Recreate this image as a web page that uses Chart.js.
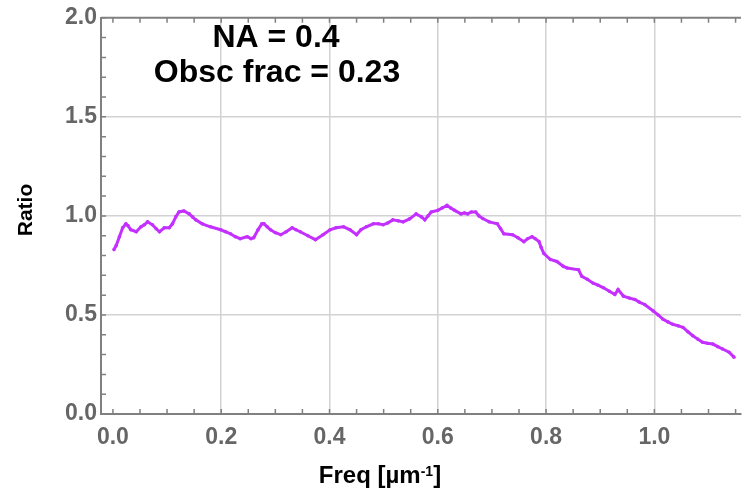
<!DOCTYPE html>
<html>
<head>
<meta charset="utf-8">
<title>Ratio vs Freq</title>
<script src="https://cdn.jsdelivr.net/npm/chart.js@4.4.0/dist/chart.umd.min.js"></script>
<style>
  html, body { margin: 0; padding: 0; background: #fff; overflow: hidden; }
  #chart { display: block; }
</style>
</head>
<body>
<canvas id="chart" width="745" height="492"></canvas>
<script>
// Measured ratio against spatial frequency
const freq = [
  0.002, 0.006, 0.012, 0.018, 0.024, 0.028, 0.033, 0.043, 0.052, 0.058,
  0.064, 0.073, 0.080, 0.086, 0.095, 0.104, 0.110, 0.116, 0.122, 0.131,
  0.141, 0.147, 0.153, 0.165, 0.180, 0.199, 0.208, 0.217, 0.226, 0.235,
  0.248, 0.255, 0.260, 0.268, 0.275, 0.279, 0.285, 0.291, 0.300, 0.310,
  0.320, 0.331, 0.338, 0.346, 0.360, 0.374, 0.388, 0.401, 0.412, 0.426,
  0.438, 0.450, 0.458, 0.468, 0.481, 0.490, 0.499, 0.508, 0.517, 0.527,
  0.536, 0.548, 0.560, 0.570, 0.576, 0.582, 0.588, 0.600, 0.608, 0.617,
  0.624, 0.631, 0.643, 0.649, 0.655, 0.662, 0.670, 0.676, 0.683, 0.695,
  0.710, 0.716, 0.722, 0.738, 0.748, 0.759, 0.766, 0.774, 0.780, 0.787,
  0.791, 0.796, 0.808, 0.820, 0.832, 0.839, 0.860, 0.866, 0.876, 0.887,
  0.896, 0.906, 0.917, 0.927, 0.933, 0.943, 0.954, 0.964, 0.972, 0.982,
  0.998, 1.007, 1.016, 1.025, 1.034, 1.044, 1.053, 1.062, 1.071, 1.080,
  1.089, 1.098, 1.108, 1.117, 1.126, 1.138, 1.147
];
const ratio = [
  0.83, 0.85, 0.895, 0.94, 0.96, 0.95, 0.93, 0.92, 0.945, 0.955,
  0.97, 0.955, 0.935, 0.92, 0.94, 0.94, 0.96, 0.995, 1.02, 1.025,
  1.01, 0.995, 0.98, 0.96, 0.945, 0.93, 0.92, 0.91, 0.895, 0.885,
  0.895, 0.885, 0.89, 0.93, 0.96, 0.96, 0.945, 0.93, 0.915, 0.905,
  0.92, 0.94, 0.93, 0.92, 0.90, 0.88, 0.905, 0.93, 0.94, 0.945,
  0.93, 0.905, 0.93, 0.945, 0.96, 0.96, 0.955, 0.965, 0.98, 0.975,
  0.97, 0.985, 1.01, 0.995, 0.98, 1.00, 1.02, 1.028, 1.04, 1.053,
  1.04, 1.028, 1.01, 1.015, 1.01, 1.02, 1.02, 1.00, 0.987, 0.97,
  0.96, 0.935, 0.91, 0.905, 0.89, 0.87, 0.885, 0.895, 0.885, 0.87,
  0.84, 0.81, 0.78, 0.77, 0.745, 0.737, 0.728, 0.695, 0.68, 0.66,
  0.65, 0.637, 0.62, 0.603, 0.628, 0.595, 0.585, 0.578, 0.565, 0.553,
  0.52, 0.50, 0.478, 0.465, 0.453, 0.445, 0.437, 0.415, 0.395, 0.378,
  0.362, 0.357, 0.353, 0.34, 0.328, 0.312, 0.287
];

const xTicks = [0.0, 0.2, 0.4, 0.6, 0.8, 1.0];
const yTicks = [0.0, 0.5, 1.0, 1.5, 2.0];
const notes = ['NA = 0.4', 'Obsc frac = 0.23'];

const FONT = '"Liberation Sans", Arial, sans-serif';
const AXIS = '#808080';
const GRID = '#d2d2d2';
const LINE = '#c430ff';

// small inward tick marks, top frame line, axis titles and the two notes
const frame = {
  id: 'frame',
  beforeDatasetsDraw(chart) {
    const { ctx, chartArea: a, scales: { x, y } } = chart;
    ctx.save();
    ctx.strokeStyle = AXIS;
    ctx.lineWidth = 2;
    ctx.beginPath();
    ctx.moveTo(a.left, a.top);
    ctx.lineTo(a.right, a.top);
    ctx.stroke();

    ctx.lineWidth = 1.5;
    ctx.beginPath();
    for (let i = 0; i * 0.05 <= x.max; i++) {
      const px = x.getPixelForValue(i * 0.05);
      ctx.moveTo(px, a.bottom);
      ctx.lineTo(px, a.bottom - 5);
      ctx.moveTo(px, a.top);
      ctx.lineTo(px, a.top + 5);
    }
    for (let i = 0; i <= 20; i++) {
      const py = y.getPixelForValue(i * 0.1);
      ctx.moveTo(a.left, py);
      ctx.lineTo(a.left + 5, py);
    }
    ctx.stroke();
    ctx.restore();
  },
  afterDraw(chart) {
    const { ctx } = chart;
    ctx.save();
    ctx.fillStyle = '#000';
    ctx.textBaseline = 'alphabetic';

    // x title with superscript
    const main = 'Freq [\u00b5m';
    const sup = '-1';
    const end = ']';
    ctx.font = 'bold 24px ' + FONT;
    const w1 = ctx.measureText(main).width;
    const w3 = ctx.measureText(end).width;
    ctx.font = 'bold 14px ' + FONT;
    const w2 = ctx.measureText(sup).width;
    let tx = 380 - (w1 + w2 + w3) / 2;
    ctx.textAlign = 'left';
    ctx.font = 'bold 24px ' + FONT;
    ctx.fillText(main, tx, 483);
    ctx.font = 'bold 14px ' + FONT;
    ctx.fillText(sup, tx + w1, 476);
    ctx.font = 'bold 24px ' + FONT;
    ctx.fillText(end, tx + w1 + w2, 483);

    // y title
    ctx.save();
    ctx.translate(26, 210);
    ctx.rotate(-Math.PI / 2);
    ctx.textAlign = 'center';
    ctx.textBaseline = 'middle';
    ctx.font = 'bold 21px ' + FONT;
    ctx.fillText('Ratio', 0, 0);
    ctx.restore();

    // notes
    ctx.textAlign = 'center';
    ctx.font = 'bold 32px ' + FONT;
    ctx.fillText(notes[0], 276, 47);
    ctx.fillText(notes[1], 277, 82);
    ctx.restore();
  }
};

const gridColor = c => (c.tick && c.tick.value > 0 && c.tick.value < 2 ? GRID : 'rgba(0,0,0,0)');

new Chart(document.getElementById('chart'), {
  type: 'line',
  data: {
    datasets: [{
      data: freq.map((f, i) => ({ x: f, y: ratio[i] })),
      borderColor: LINE,
      backgroundColor: LINE,
      borderWidth: 3,
      pointRadius: 1.8,
      pointBorderWidth: 0,
      tension: 0
    }]
  },
  options: {
    responsive: false,
    animation: false,
    layout: { padding: { top: 14, right: 0, left: 0, bottom: 0 } },
    plugins: { legend: { display: false }, tooltip: { enabled: false } },
    scales: {
      x: {
        type: 'linear',
        min: -0.022,
        max: 1.16,
        afterBuildTicks: s => { s.ticks = xTicks.map(v => ({ value: v })); },
        afterFit: s => { s.height = 78; },
        grid: { color: gridColor, lineWidth: 1.5, drawTicks: false },
        border: { color: AXIS, width: 2 },
        ticks: {
          padding: 10,
          color: '#666',
          font: { family: FONT, size: 23, weight: 'bold' },
          callback: v => v.toFixed(1)
        }
      },
      y: {
        min: 0,
        max: 2,
        afterBuildTicks: s => { s.ticks = yTicks.map(v => ({ value: v })); },
        afterFit: s => { s.width = 101; },
        grid: { color: gridColor, lineWidth: 1.5, drawTicks: false },
        border: { color: AXIS, width: 2 },
        ticks: {
          padding: 4,
          color: '#666',
          font: { family: FONT, size: 23, weight: 'bold' },
          callback: v => v.toFixed(1)
        }
      }
    }
  },
  plugins: [frame]
});
</script>
</body>
</html>
